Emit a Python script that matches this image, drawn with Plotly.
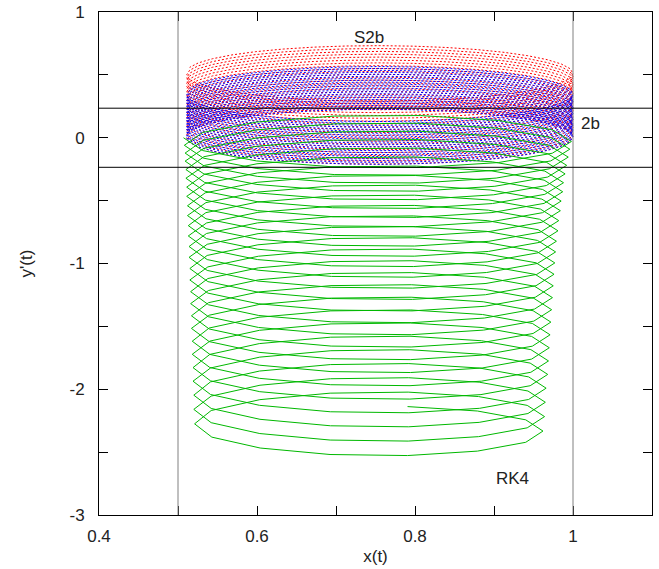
import plotly.graph_objects as go

# ---- data ----
# smooth orbit shape (unit cos / sin at 10 degree steps, starting at the left end, bottom half first)
u_cos = [-1.0, -0.9848, -0.9397, -0.8660, -0.7660, -0.6428, -0.5, -0.3420, -0.1736, 0.0,
         0.1736, 0.3420, 0.5, 0.6428, 0.7660, 0.8660, 0.9397, 0.9848, 1.0, 0.9848,
         0.9397, 0.8660, 0.7660, 0.6428, 0.5, 0.3420, 0.1736, 0.0, -0.1736, -0.3420,
         -0.5, -0.6428, -0.7660, -0.8660, -0.9397, -0.9848]
u_sin = [0.0, -0.1736, -0.3420, -0.5, -0.6428, -0.7660, -0.8660, -0.9397, -0.9848, -1.0,
         -0.9848, -0.9397, -0.8660, -0.7660, -0.6428, -0.5, -0.3420, -0.1736, 0.0, 0.1736,
         0.3420, 0.5, 0.6428, 0.7660, 0.8660, 0.9397, 0.9848, 1.0, 0.9848, 0.9397,
         0.8660, 0.7660, 0.6428, 0.5, 0.3420, 0.1736]

# coarse RK4 polygon shape (14 vertices per orbit)
g_cos = [-1.0, -0.9010, -0.6235, -0.2225, 0.2225, 0.6235, 0.9010, 1.0, 0.9010, 0.6235, 0.2225, -0.2225, -0.6235, -0.9010]
g_sin = [0.0, -0.4339, -0.7818, -0.9749, -0.9749, -0.7818, -0.4339, 0.0, 0.4339, 0.7818, 0.9749, 0.9749, 0.7818, 0.4339]

# per-orbit centre of y'(t)
s2b_centers = [0.0, 0.023, 0.045, 0.068, 0.091, 0.114, 0.136, 0.159, 0.182, 0.205, 0.227, 0.25,
               0.273, 0.295, 0.318, 0.341, 0.364, 0.386, 0.409, 0.432, 0.455, 0.477, 0.50]
b2_centers = [0.0, 0.015, 0.031, 0.046, 0.062, 0.077, 0.093, 0.108, 0.124, 0.139, 0.155, 0.17,
              0.185, 0.201, 0.216, 0.232, 0.247, 0.263, 0.278, 0.294, 0.309, 0.325, 0.34]
rk4_centers = [0.0, -0.060, -0.122, -0.186, -0.253, -0.322, -0.393, -0.466, -0.541, -0.619,
               -0.699, -0.781, -0.865, -0.951, -1.040, -1.131, -1.224, -1.319, -1.416, -1.516,
               -1.618, -1.722, -1.828, -1.936, -2.047, -2.160, -2.275]
rk4_left = [0.507, 0.508, 0.509, 0.509, 0.510, 0.510, 0.511, 0.511, 0.512, 0.512, 0.513, 0.513,
            0.514, 0.514, 0.515, 0.515, 0.516, 0.516, 0.517, 0.517, 0.518, 0.518, 0.519, 0.519,
            0.520, 0.520, 0.521]
rk4_right = [0.998, 0.996, 0.994, 0.992, 0.990, 0.988, 0.987, 0.985, 0.984, 0.982, 0.981, 0.979,
             0.978, 0.977, 0.976, 0.975, 0.974, 0.973, 0.972, 0.971, 0.970, 0.969, 0.968, 0.966,
             0.965, 0.964, 0.962]
rk4_last_vertices = 11

smooth_xmin, smooth_xmax = 0.511, 1.0
smooth_half_height = 0.215
rk4_half_height = 0.225

ref_x = [0.5, 1.0]
ref_y = [0.235, -0.235]

labels = ["S2b", "2b", "RK4"]
label_x = [0.7415, 1.0226, 0.9228]
label_y = [0.80, 0.115, -2.706]


def next_center(centers, i):
    if i + 1 < len(centers):
        return centers[i + 1]
    return centers[i] + (centers[i] - centers[i - 1])


def smooth_orbits(centers):
    cx = (smooth_xmin + smooth_xmax) / 2
    ax = (smooth_xmax - smooth_xmin) / 2
    xs, ys = [], []
    n = len(u_cos)
    for i, c in enumerate(centers):
        cn = next_center(centers, i)
        for k, (co, si) in enumerate(zip(u_cos, u_sin)):
            xs.append(cx + ax * co)
            ys.append(c + (cn - c) * k / n + smooth_half_height * si)
    return xs, ys


def rk4_orbits():
    xs, ys = [], []
    n = len(rk4_centers)
    m_full = len(g_cos)
    for i, c in enumerate(rk4_centers):
        cn = next_center(rk4_centers, i)
        cx = (rk4_left[i] + rk4_right[i]) / 2
        ax = (rk4_right[i] - rk4_left[i]) / 2
        m = rk4_last_vertices if i == n - 1 else m_full
        for k in range(m):
            xs.append(cx + ax * g_cos[k])
            ys.append(c + (cn - c) * k / m_full + rk4_half_height * g_sin[k])
    return xs, ys


fig = go.Figure()
rx, ry = smooth_orbits(s2b_centers)
fig.add_trace(go.Scatter(x=rx, y=ry, mode="lines", name="S2b",
                         line=dict(color="#ff0000", width=1, dash="2px,2px")))
bx, by = smooth_orbits(b2_centers)
fig.add_trace(go.Scatter(x=bx, y=by, mode="lines", name="2b",
                         line=dict(color="#0000ff", width=1, dash="2px,2px")))
gx, gy = rk4_orbits()
fig.add_trace(go.Scatter(x=gx, y=gy, mode="lines", name="RK4",
                         line=dict(color="#00b800", width=1)))

for xv in ref_x:
    fig.add_shape(type="line", x0=xv, x1=xv, y0=0, y1=1, xref="x", yref="paper",
                  line=dict(color="#808080", width=1), layer="above")
for yv in ref_y:
    fig.add_shape(type="line", x0=0, x1=1, y0=yv, y1=yv, xref="paper", yref="y",
                  line=dict(color="#000000", width=1), layer="above")

for t, xv, yv in zip(labels, label_x, label_y):
    fig.add_annotation(x=xv, y=yv, text=t, showarrow=False, xref="x", yref="y",
                       font=dict(size=17, color="#222222"))

font_family = "Liberation Sans, Arial, Helvetica, sans-serif"
fig.update_layout(
    width=659, height=569,
    margin=dict(l=99, r=7, t=12, b=54, autoexpand=False),
    paper_bgcolor="white", plot_bgcolor="white",
    showlegend=False,
    font=dict(family=font_family, size=17, color="#222222"),
)
fig.update_xaxes(
    range=[0.4, 1.1], tickvals=[0.4, 0.6, 0.8, 1.0], ticktext=["0.4", "0.6", "0.8", "1"],
    ticks="inside", ticklen=9, tickcolor="black", tickwidth=1,
    minor=dict(dtick=0.1, tick0=0.4, ticks="inside", ticklen=9, tickcolor="black", showgrid=False),
    showline=True, linecolor="black", linewidth=1, mirror="allticks",
    showgrid=False, zeroline=False, automargin=False,
    title=dict(text="x(t)", standoff=4, font=dict(size=17)),
    ticklabelstandoff=6,
)
fig.update_yaxes(
    range=[-3, 1], tickvals=[-3, -2, -1, 0, 1], ticktext=["-3", "-2", "-1", "0", "1"],
    ticks="inside", ticklen=9, tickcolor="black", tickwidth=1,
    minor=dict(dtick=0.5, tick0=0, ticks="inside", ticklen=9, tickcolor="black", showgrid=False),
    showline=True, linecolor="black", linewidth=1, mirror="allticks",
    showgrid=False, zeroline=False, automargin=False,
    title=dict(text="y'(t)", standoff=32, font=dict(size=17)),
    ticklabelstandoff=10,
)

fig.write_html("out.html")
